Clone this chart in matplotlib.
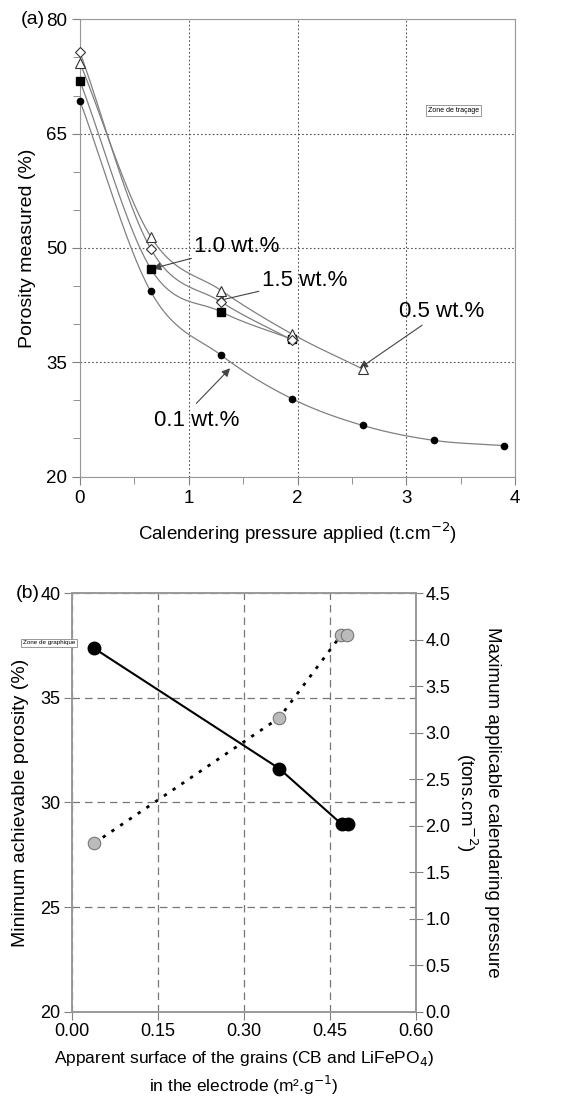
import numpy as np
import matplotlib.pyplot as plt

plt.rcParams['font.family'] = ['Liberation Sans', 'DejaVu Sans']

# panel (a): porosity vs calendering pressure
p01 = [0, 0.65, 1.3, 1.95, 2.6, 3.25, 3.9]
phi01 = [69.3, 44.3, 35.9, 30.2, 26.7, 24.75, 24.05]
p05 = [0, 0.65, 1.3, 1.95, 2.6]
phi05 = [74.3, 51.5, 44.4, 38.7, 34.1]
p10 = [0, 0.65, 1.3, 1.95]
phi10 = [71.9, 47.3, 41.6, 38.0]
p15 = [0, 0.65, 1.3, 1.95]
phi15 = [75.7, 49.9, 42.9, 37.9]

# panel (b)
surf_por = [0.039, 0.362, 0.471, 0.482]
min_por = [37.37, 31.62, 28.96, 28.96]
surf_pres = [0.039, 0.362, 0.470, 0.481]
max_pres = [1.81, 3.16, 4.05, 4.05]

GRAY = '#808080'


def smooth(x, y, n=30):
    # Catmull-Rom curve through the measured points (drawing only)
    x = np.asarray(x, float)
    y = np.asarray(y, float)
    P = np.c_[x, y]
    P = np.vstack([2 * P[0] - P[1], P, 2 * P[-1] - P[-2]])
    out = []
    t = np.linspace(0, 1, n)[:, None]
    for i in range(1, len(P) - 2):
        p0, p1, p2, p3 = P[i - 1], P[i], P[i + 1], P[i + 2]
        seg = 0.5 * ((2 * p1) + (-p0 + p2) * t + (2 * p0 - 5 * p1 + 4 * p2 - p3) * t ** 2
                     + (-p0 + 3 * p1 - 3 * p2 + p3) * t ** 3)
        out.append(seg)
    s = np.vstack(out)
    return s[:, 0], s[:, 1]


fig = plt.figure(figsize=(5.63, 10.99), dpi=100)

# ---------------- (a) ----------------
ax = fig.add_axes([0.142, 0.5664, 0.773, 0.416])
for xs, ys in [(p01, phi01), (p05, phi05), (p10, phi10), (p15, phi15)]:
    sx, sy = smooth(xs, ys)
    ax.plot(sx, sy, color=GRAY, lw=0.9, zorder=2)
ax.plot(p01, phi01, 'o', color='black', ms=4.5, zorder=4, clip_on=False)
ax.plot(p10, phi10, 's', color='black', ms=5.5, zorder=4, clip_on=False)
ax.plot(p05, phi05, '^', mfc='white', mec='#333333', mew=0.8, ms=7, zorder=4, clip_on=False)
ax.plot(p15, phi15, 'D', mfc='white', mec='#333333', mew=0.8, ms=5, zorder=4, clip_on=False)

ax.set_xlim(0, 4)
ax.set_ylim(20, 80)
ax.set_xticks([0, 1, 2, 3, 4])
ax.set_yticks([20, 35, 50, 65, 80])
ax.set_xticks(np.arange(0.5, 4, 1), minor=True)
ax.set_yticks([25, 30, 40, 45, 55, 60, 70, 75], minor=True)
ax.grid(True, which='major', ls=(0, (1.5, 2)), color='#555555', lw=0.8)
ax.tick_params(which='both', direction='out', color=GRAY, labelsize=13.5)
ax.tick_params(which='major', length=6)
ax.tick_params(which='minor', length=5)
for s in ax.spines.values():
    s.set_color('#999999')
ax.set_xlabel('Calendering pressure applied (t.cm$^{-2}$)', fontsize=13.5, labelpad=10)
ax.set_ylabel('Porosity measured (%)', fontsize=14, labelpad=7)

arr = dict(arrowstyle='-|>', color='#444444', lw=0.8, mutation_scale=12, shrinkA=0, shrinkB=0)
ax.annotate('1.0 wt.%', xy=(0.67, 47.3), xytext=(1.05, 50.2), fontsize=16,
            ha='left', va='center', arrowprops=arr)
ax.annotate('1.5 wt.%', xy=(1.25, 43.0), xytext=(1.67, 45.7), fontsize=16,
            ha='left', va='center', arrowprops=arr)
ax.annotate('0.5 wt.%', xy=(2.57, 34.2), xytext=(2.93, 41.6), fontsize=16,
            ha='left', va='center', arrowprops=arr)
ax.annotate('0.1 wt.%', xy=(1.38, 34.2), xytext=(0.68, 27.4), fontsize=16,
            ha='left', va='center')
ax.annotate('', xy=(1.38, 34.2), xytext=(1.07, 29.6), arrowprops=arr)
ax.text(3.2, 68, 'Zone de traçage', fontsize=5, ha='left', va='center',
        bbox=dict(boxstyle='square,pad=0.3', fc='white', ec='#888888', lw=0.6))
fig.text(0.036, 0.982, '(a)', fontsize=14, ha='left', va='center')

# ---------------- (b) ----------------
bx = fig.add_axes([0.1273, 0.0795, 0.611, 0.3807])
bx.plot(surf_por, min_por, '-o', color='black', lw=1.5, ms=9, zorder=4)
bx.set_xlim(0, 0.6)
bx.set_ylim(20, 40)
bx.set_xticks([0, 0.15, 0.3, 0.45, 0.6])
bx.set_xticklabels(['0.00', '0.15', '0.30', '0.45', '0.60'])
bx.set_yticks([20, 25, 30, 35, 40])
bx.grid(True, ls=(0, (6, 4)), color='#777777', lw=0.9)
bx.tick_params(direction='out', color=GRAY, labelsize=13, length=6, pad=2)
for s in bx.spines.values():
    s.set_color('#999999')
    s.set_linewidth(1.2)
bx.set_xlabel('Apparent surface of the grains (CB and LiFePO$_4$)\nin the electrode (m².g$^{-1}$)',
              fontsize=12.5, labelpad=7, linespacing=1.3)
bx.set_ylabel('Minimum achievable porosity (%)', fontsize=14, labelpad=8)

b2 = bx.twinx()
b2.plot(surf_pres, max_pres, 'o', ls=(0, (1.2, 2.6)), color='black', lw=2, ms=9,
        mfc='#bbbbbb', mec='#777777', mew=0.8, zorder=3)
b2.set_ylim(0, 4.5)
b2.set_yticks(np.arange(0, 4.51, 0.5))
b2.tick_params(direction='inout', color=GRAY, labelsize=13, length=10, pad=2)
for s in b2.spines.values():
    s.set_color('#999999')
    s.set_linewidth(1.2)
b2.set_ylabel('Maximum applicable calendaring pressure\n(tons.cm$^{-2}$)', fontsize=13.5,
              rotation=-90, labelpad=36, linespacing=1.2)
fig.text(0.028, 0.4603, '(b)', fontsize=14, ha='left', va='center')
fig.text(0.04, 0.415, 'Zone de graphique', fontsize=4.5, ha='left', va='center',
         bbox=dict(boxstyle='square,pad=0.3', fc='white', ec='#888888', lw=0.6))

fig.savefig('out.png', dpi=100)
